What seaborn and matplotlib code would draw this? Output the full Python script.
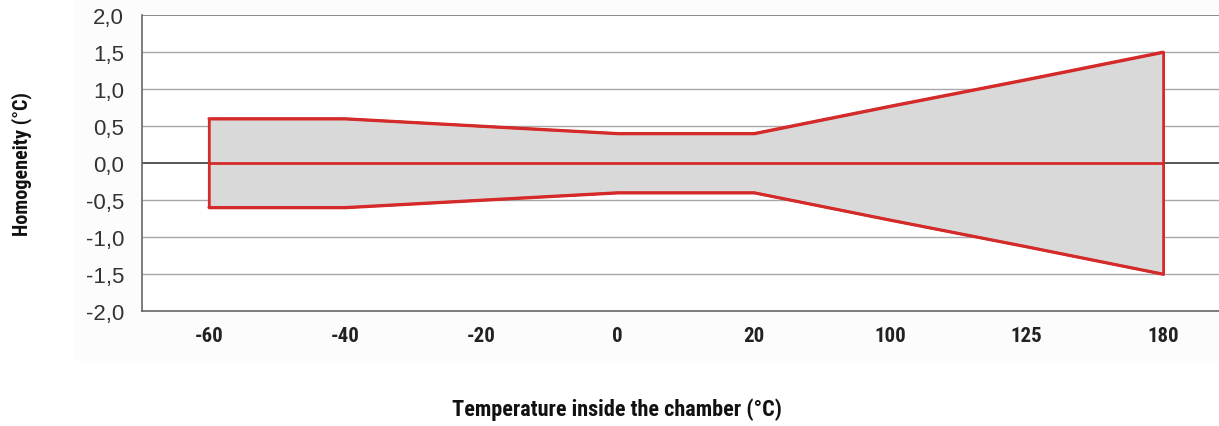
import numpy as np
import pandas as pd
import matplotlib
matplotlib.use("Agg")
import matplotlib.pyplot as plt
import seaborn as sns
from matplotlib.patches import Rectangle
from matplotlib.ticker import FuncFormatter

temps = ["-60", "-40", "-20", "0", "20", "100", "125", "180"]
upper = [0.6, 0.6, 0.5, 0.4, 0.4, 0.77, 1.13, 1.5]
lower = [-0.6, -0.6, -0.5, -0.4, -0.4, -0.77, -1.13, -1.5]
center = [0.0] * len(temps)
yticks = [-2.0, -1.5, -1.0, -0.5, 0.0, 0.5, 1.0, 1.5, 2.0]

sns.set_style("white")
plt.rcParams['font.family'] = ['Liberation Sans', 'DejaVu Sans']
narrow = ['Roboto Condensed', 'Liberation Sans']

df = pd.DataFrame({"temp": temps, "upper": upper, "lower": lower, "center": center})

fig = plt.figure(figsize=(12.19, 4.27), dpi=100)
# faint backing panel behind the chart
fig.patches.append(Rectangle((75 / 1219, 1 - 362 / 427), 1, 362 / 427,
                             transform=fig.transFigure, facecolor="#fcfcfc",
                             edgecolor="none", zorder=-5))
ax = fig.add_axes([142 / 1219, 1 - 312 / 427, 1 - 142 / 1219, (312 - 16) / 427])
ax.set_facecolor("white")

red = "#d42a2a"
pos = np.arange(len(temps))
ax.fill_between(pos, df["lower"], df["upper"], facecolor="#d9d9d9",
                edgecolor=red, linewidth=2, zorder=2)
for col in ["upper", "lower", "center"]:
    sns.lineplot(data=df, x="temp", y=col, ax=ax, color=red, linewidth=2,
                 sort=False, zorder=4)

for y in yticks:
    if y == 0.0:
        ax.axhline(y, color="#3a3a3a", linewidth=1.2, zorder=1)
    elif y == 2.0:
        ax.axhline(y, color="#777777", linewidth=1.2, zorder=1)
    else:
        ax.axhline(y, color="#a8a8a8", linewidth=1.0, zorder=1)

ax.set_xlim(-0.49, 7.41)
ax.set_ylim(-2.0, 2.0)
ax.set_yticks(yticks)
ax.yaxis.set_major_formatter(FuncFormatter(lambda v, p: f"{v:.1f}".replace(".", ",")))
ax.tick_params(axis="y", labelsize=16, colors="#333333", length=0, pad=13)
ax.tick_params(axis="x", labelsize=15, colors="#222222", length=0, pad=11)
for lab in ax.get_xticklabels():
    lab.set_fontweight("bold")
    lab.set_family(narrow)

for side in ["top", "right"]:
    ax.spines[side].set_visible(False)
ax.spines["left"].set_color("#666666")
ax.spines["bottom"].set_color("#666666")
ax.spines["left"].set_linewidth(1.2)
ax.spines["bottom"].set_linewidth(1.2)

ax.set_xlabel("")
ax.set_ylabel("")
fig.text(22 / 1219, 1 - 164 / 427, "Homogeneity (°C)", rotation=90, ha="center",
         va="center", fontsize=14.5, fontweight="bold", color="#111111", family=narrow)
fig.text(617 / 1219, 1 - 410 / 427, "Temperature inside the chamber (°C)", ha="center",
         va="center", fontsize=16, fontweight="bold", color="#111111", family=narrow)

fig.savefig("out.png", dpi=100)
